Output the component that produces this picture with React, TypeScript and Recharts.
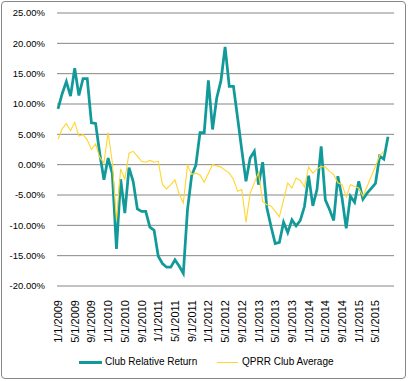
import React from 'react';
import { LineChart, Line, XAxis, YAxis, CartesianGrid } from 'recharts';

const months = [
  '1/1/2009', '2/1/2009', '3/1/2009', '4/1/2009', '5/1/2009', '6/1/2009', '7/1/2009', '8/1/2009', '9/1/2009', '10/1/2009', '11/1/2009', '12/1/2009',
  '1/1/2010', '2/1/2010', '3/1/2010', '4/1/2010', '5/1/2010', '6/1/2010', '7/1/2010', '8/1/2010', '9/1/2010', '10/1/2010', '11/1/2010', '12/1/2010',
  '1/1/2011', '2/1/2011', '3/1/2011', '4/1/2011', '5/1/2011', '6/1/2011', '7/1/2011', '8/1/2011', '9/1/2011', '10/1/2011', '11/1/2011', '12/1/2011',
  '1/1/2012', '2/1/2012', '3/1/2012', '4/1/2012', '5/1/2012', '6/1/2012', '7/1/2012', '8/1/2012', '9/1/2012', '10/1/2012', '11/1/2012', '12/1/2012',
  '1/1/2013', '2/1/2013', '3/1/2013', '4/1/2013', '5/1/2013', '6/1/2013', '7/1/2013', '8/1/2013', '9/1/2013', '10/1/2013', '11/1/2013', '12/1/2013',
  '1/1/2014', '2/1/2014', '3/1/2014', '4/1/2014', '5/1/2014', '6/1/2014', '7/1/2014', '8/1/2014', '9/1/2014', '10/1/2014', '11/1/2014', '12/1/2014',
  '1/1/2015', '2/1/2015', '3/1/2015', '4/1/2015', '5/1/2015', '6/1/2015', '7/1/2015', '8/1/2015',
];

// percent values
const clubRelativeReturn = [
  9.2, 11.7, 13.7, 11.3, 15.9, 11.4, 14.2, 14.2, 6.9, 6.8, 1.8, -2.5,
  1.1, -1.5, -13.9, -2.4, -8.0, -0.5, -2.8, -7.3, -7.7, -7.7, -10.3, -10.8,
  -15.1, -16.3, -16.9, -16.9, -15.7, -16.7, -17.9, -7.4, -1.8, -0.1, 5.3, 5.3,
  13.9, 5.8, 11.0, 13.8, 19.4, 12.9, 12.9, 7.7, 2.4, -2.75, 1.1, 2.2,
  -3.3, 0.4, -7.1, -10.2, -13.0, -12.8, -9.5, -11.2, -9.1, -10.1, -9.2, -6.9,
  -1.8, -6.8, -4.1, 3.0, -5.8, -7.4, -9.2, -1.9, -5.5, -10.5, -5.2, -6.2,
  -2.75, -5.7, -4.7, -3.9, -3.1, 1.4, 0.9, 4.6,
];

const qprrClubAverage = [
  4.2, 5.9, 6.8, 5.6, 7.0, 4.7, 4.95, 4.1, 2.5, 3.4, 1.2, 0.3,
  5.3, 0.4, -9.2, -0.7, -2.4, 1.9, 2.2, 1.4, 0.55, 0.4, 0.7, 0.4,
  0.55, -3.3, -4.0, -3.3, -2.5, -4.8, -6.3, -0.1, -1.6, -1.4, -1.7, -2.9,
  -1.4, 0.0, -0.2, -0.4, -0.9, -1.4, -2.4, -4.4, -4.1, -9.5, -4.7, -3.0,
  -1.3, -6.05, -6.6, -6.8, -7.7, -8.6, -5.8, -3.0, -3.85, -2.2, -2.6, -3.7,
  -0.4, -1.4, -0.7, -0.3, -0.4, -1.1, -1.65, -3.0, -3.3, -5.3, -3.3, -3.6,
  -3.85, -5.2, -3.6, -1.9, -0.3, 1.5, 2.2, null,
];

const yTicks = [-20, -15, -10, -5, 0, 5, 10, 15, 20, 25];

const data = months.map((m, i) => ({
  month: m,
  club: clubRelativeReturn[i],
  avg: qprrClubAverage[i],
}));

const TEAL = '#12999A';
const YELLOW = '#FFD62E';
const GRID = '#868686';
const FONT = '"Liberation Sans", Arial, sans-serif';

const DateTick = (props: any) => {
  const { x, y, payload } = props;
  return (
    <text
      x={0}
      y={0}
      transform={`translate(${x + 4},${y + 6}) rotate(-90)`}
      textAnchor="end"
      fontSize={11}
      fontFamily={FONT}
      fill="#000"
    >
      {payload.value}
    </text>
  );
};

export default function App() {
  return (
    <div style={{ position: 'absolute', left: 0, top: 0, width: 408, height: 381, background: '#fff' }}>
      <div
        style={{
          position: 'absolute',
          left: 1,
          top: 1,
          width: 405,
          height: 378,
          boxSizing: 'border-box',
          border: `1px solid ${GRID}`,
          borderRadius: 4,
        }}
      />
      <LineChart width={408} height={381} data={data} margin={{ top: 13, right: 14, bottom: 0, left: 0 }}>
        <CartesianGrid vertical={false} stroke={GRID} />
        <XAxis
          dataKey="month"
          interval={3}
          axisLine={false}
          tickLine={false}
          height={95}
          padding={{ left: 1, right: 6 }}
          tick={<DateTick />}
        />
        <YAxis
          type="number"
          domain={[-20, 25]}
          ticks={yTicks}
          width={57}
          axisLine={false}
          tickLine={false}
          tickSize={6}
          tickMargin={6}
          tickFormatter={(v: number) => v.toFixed(2) + '%'}
          tick={{ fontSize: 9.5, fill: '#000', fontFamily: FONT }}
        />
        <Line
          type="linear"
          dataKey="club"
          name="Club Relative Return"
          stroke={TEAL}
          strokeWidth={2.75}
          dot={false}
          isAnimationActive={false}
        />
        <Line
          type="linear"
          dataKey="avg"
          name="QPRR Club Average"
          stroke={YELLOW}
          strokeWidth={1.1}
          dot={false}
          isAnimationActive={false}
        />
      </LineChart>
      <div style={{ position: 'absolute', left: 79, top: 354, height: 16, fontFamily: FONT, fontSize: 10, color: '#000' }}>
        <div style={{ position: 'absolute', left: 0, top: 7, width: 23, height: 3, background: TEAL }} />
        <span style={{ position: 'absolute', left: 26, top: 2, whiteSpace: 'nowrap' }}>Club Relative Return</span>
        <div style={{ position: 'absolute', left: 138, top: 8, width: 21, height: 1, background: YELLOW }} />
        <span style={{ position: 'absolute', left: 163, top: 2, whiteSpace: 'nowrap' }}>QPRR Club Average</span>
      </div>
    </div>
  );
}
